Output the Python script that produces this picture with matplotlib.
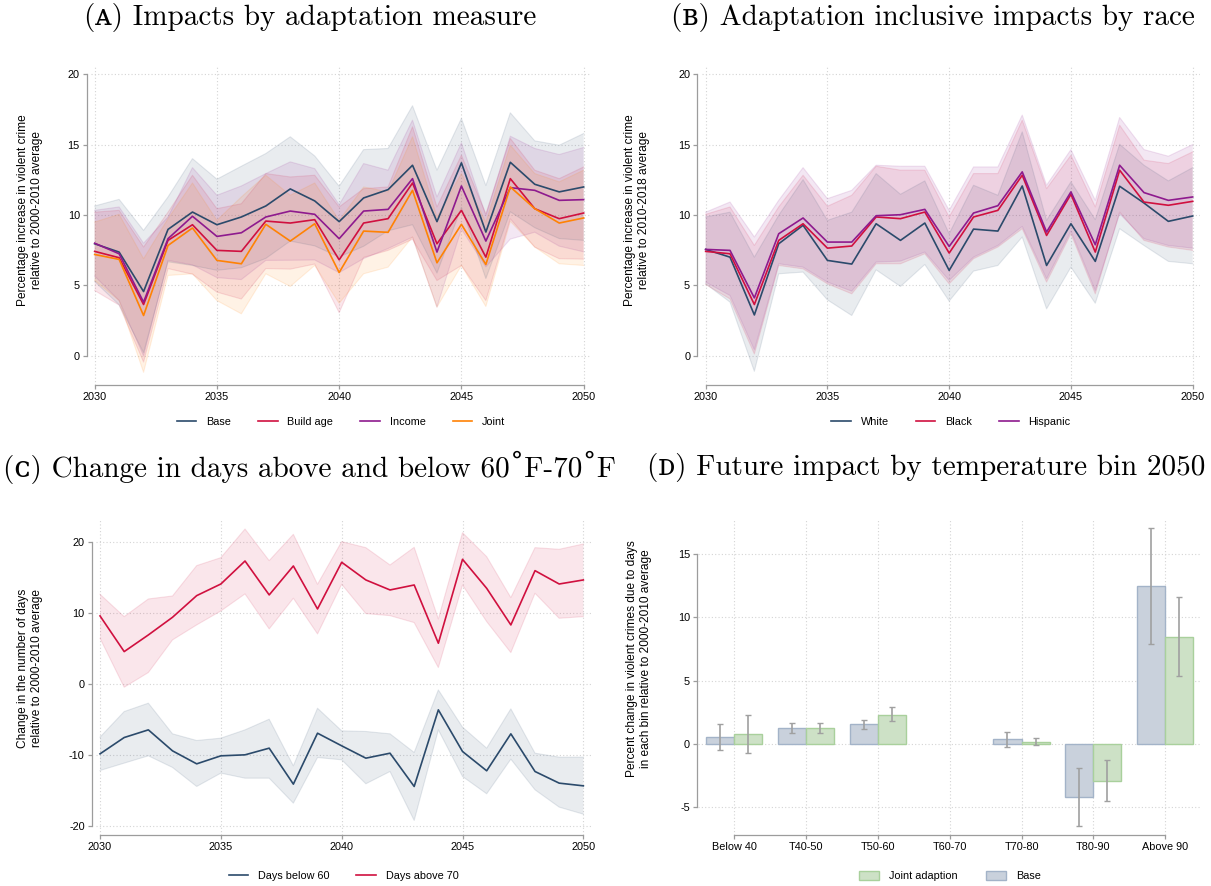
import numpy as np
import matplotlib.pyplot as plt
from matplotlib.patches import Patch
from matplotlib.lines import Line2D

plt.rcParams['font.family'] = ['Liberation Sans', 'DejaVu Sans']

years = list(range(2030, 2051))

# (A) impacts by adaptation measure: point estimates and 95% bands
base = [7.96, 7.37, 4.57, 8.98, 10.21, 9.31, 9.86, 10.64, 11.85, 11.0, 9.53,
        11.21, 11.8, 13.53, 9.53, 13.7, 8.79, 13.74, 12.18, 11.64, 11.99]
base_hi = [10.64, 11.11, 8.91, 11.28, 14.0, 12.54, 13.46, 14.36, 15.55, 14.19, 12.04,
           14.64, 14.72, 17.75, 13.18, 16.85, 12.09, 17.25, 15.26, 14.95, 15.78]
base_lo = [5.28, 3.63, 0.23, 6.68, 6.42, 6.08, 6.26, 6.92, 8.15, 7.81, 7.02,
           7.78, 8.88, 9.31, 5.88, 10.55, 5.49, 10.23, 9.1, 8.33, 8.2]
build = [7.42, 6.97, 3.65, 8.2, 9.31, 7.49, 7.42, 9.57, 9.43, 9.67, 6.82,
         9.43, 9.74, 12.27, 7.96, 10.33, 7.01, 12.58, 10.45, 9.74, 10.14]
build_hi = [10.2, 10.33, 7.73, 10.2, 12.82, 10.45, 10.8, 12.94, 12.7, 12.82, 10.57,
            11.87, 11.99, 16.26, 10.57, 14.24, 10.09, 15.43, 13.18, 12.58, 13.41]
build_lo = [4.64, 3.61, -0.43, 6.2, 5.8, 4.53, 4.04, 6.2, 6.16, 6.52, 3.07,
            6.99, 7.49, 8.28, 5.35, 6.42, 3.93, 9.73, 7.72, 6.9, 6.87]
income = [8.0, 7.25, 3.82, 8.32, 9.91, 8.48, 8.74, 9.86, 10.28, 10.05, 8.32,
          10.28, 10.4, 12.58, 7.37, 12.06, 8.15, 11.94, 11.75, 11.04, 11.09]
income_hi = [10.33, 10.57, 8.0, 9.86, 13.36, 11.4, 12.06, 12.94, 13.77, 13.29, 10.73,
             13.65, 13.18, 16.73, 11.28, 15.12, 9.98, 15.59, 14.72, 14.29, 14.79]
income_lo = [5.67, 3.93, 0.0, 6.78, 6.46, 5.56, 5.42, 6.78, 6.79, 6.81, 5.91,
             6.91, 7.62, 8.43, 3.46, 9.0, 6.32, 8.29, 8.78, 7.79, 7.39]
joint = [7.2, 6.85, 2.87, 7.84, 9.08, 6.78, 6.54, 9.34, 8.15, 9.38, 5.92,
         8.86, 8.77, 11.75, 6.61, 9.34, 6.49, 11.99, 10.45, 9.43, 9.79]
joint_hi = [9.5, 10.05, 6.9, 9.74, 12.27, 9.62, 11.28, 12.82, 11.4, 12.27, 9.62,
            11.99, 11.64, 15.55, 9.86, 12.94, 9.5, 14.95, 12.94, 12.35, 13.18]
joint_lo = [5.36, 3.93, -1.16, 5.71, 5.83, 3.93, 2.99, 5.83, 4.93, 6.42, 3.74,
            5.83, 6.3, 8.44, 3.46, 6.42, 3.51, 9.55, 7.73, 6.54, 6.42]

# (B) adaptation inclusive impacts by race
white = [7.56, 7.01, 2.91, 7.96, 9.27, 6.78, 6.52, 9.38, 8.2, 9.43, 6.07,
         9.0, 8.86, 12.06, 6.42, 9.38, 6.71, 12.04, 10.85, 9.55, 9.93]
white_hi = [9.86, 10.2, 7.01, 9.98, 12.51, 9.62, 10.2, 12.94, 11.47, 12.42, 8.67,
            12.11, 11.4, 15.9, 9.62, 12.35, 9.67, 15.02, 13.53, 12.42, 13.36]
white_lo = [5.12, 3.82, -1.09, 5.83, 5.95, 3.98, 2.87, 6.11, 4.93, 6.49, 3.89,
            6.02, 6.42, 8.44, 3.34, 6.3, 3.74, 9.03, 7.84, 6.71, 6.54]
black = [7.42, 7.25, 3.65, 8.2, 9.38, 7.65, 7.8, 9.86, 9.74, 10.21, 7.3,
         9.86, 10.33, 12.82, 8.55, 11.47, 7.37, 13.18, 10.92, 10.69, 10.97]
black_hi = [10.05, 10.57, 7.84, 10.57, 12.82, 10.62, 11.4, 13.46, 13.18, 13.18, 9.86,
            12.94, 12.94, 16.73, 11.87, 14.24, 10.57, 16.37, 13.89, 13.65, 14.48]
black_lo = [5.07, 4.05, 0.14, 6.42, 6.18, 5.12, 4.41, 6.54, 6.54, 7.25, 5.12,
            6.9, 7.73, 9.03, 5.24, 8.67, 4.41, 10.21, 8.2, 7.73, 7.49]
hisp = [7.56, 7.49, 4.12, 8.67, 9.79, 8.08, 8.08, 9.95, 10.02, 10.4, 7.77,
        10.14, 10.66, 13.06, 8.79, 11.64, 7.89, 13.53, 11.59, 11.04, 11.28]
hisp_hi = [10.2, 10.92, 8.44, 11.04, 13.36, 11.16, 11.75, 13.53, 13.46, 13.46, 10.33,
           13.41, 13.41, 17.09, 12.11, 14.64, 11.04, 16.92, 14.64, 14.17, 15.0]
hisp_lo = [5.24, 4.29, 0.43, 6.54, 6.3, 5.24, 4.6, 6.66, 6.73, 7.37, 5.36,
           7.01, 7.84, 9.19, 5.47, 8.86, 4.64, 10.09, 8.32, 7.84, 7.65]

# (C) change in days above 70F / below 60F
above = [9.58, 4.55, 6.9, 9.39, 12.44, 14.08, 17.32, 12.54, 16.62, 10.56, 17.14,
         14.65, 13.24, 13.94, 5.73, 17.56, 13.47, 8.31, 15.96, 14.08, 14.65]
above_hi = [12.63, 9.48, 11.97, 12.39, 16.67, 17.79, 21.83, 17.37, 21.08, 14.04, 20.05,
            19.2, 16.76, 19.25, 9.15, 21.31, 17.93, 12.16, 19.2, 18.97, 19.72]
above_lo = [6.43, -0.47, 1.6, 6.2, 8.31, 10.28, 12.68, 7.75, 12.07, 7.04, 14.04,
            9.91, 9.62, 8.64, 2.3, 13.94, 8.78, 4.41, 12.77, 9.25, 9.48]
below = [-9.86, -7.56, -6.48, -9.44, -11.27, -10.14, -10.0, -9.06, -14.13, -6.95, -8.73,
         -10.47, -9.77, -14.46, -3.66, -9.53, -12.25, -7.04, -12.35, -13.99, -14.37]
below_hi = [-7.51, -3.9, -2.72, -7.04, -7.98, -7.65, -6.48, -4.98, -11.55, -3.43, -6.62,
            -6.71, -7.04, -9.67, -0.85, -6.1, -9.06, -3.52, -9.77, -10.33, -10.33]
below_lo = [-12.21, -11.17, -10.14, -11.78, -14.46, -12.58, -13.29, -13.29, -16.81, -10.38, -10.7,
            -14.08, -12.35, -19.25, -6.48, -13.05, -15.49, -10.61, -14.93, -17.37, -18.36]

# (D) impact by temperature bin in 2050 (T60-70 is the omitted reference bin)
bins = ['Below 40', 'T40-50', 'T50-60', 'T60-70', 'T70-80', 'T80-90', 'Above 90']
bin_base = [0.53, 1.24, 1.56, np.nan, 0.37, -4.17, 12.48]
bin_base_hi = [1.56, 1.64, 1.93, np.nan, 0.98, -1.87, 17.1]
bin_base_lo = [-0.47, 0.9, 1.21, np.nan, -0.21, -6.49, 7.92]
bin_joint = [0.77, 1.24, 2.3, np.nan, 0.13, -2.9, 8.47]
bin_joint_hi = [2.27, 1.64, 2.88, np.nan, 0.5, -1.27, 11.61]
bin_joint_lo = [-0.69, 0.9, 1.82, np.nan, -0.11, -4.51, 5.38]

NAVY = '#2b4a6b'
CRIMSON = '#d0103f'
PURPLE = '#8e1a8e'
ORANGE = '#ff8204'
SPINE = '#9c9c9c'
W, H = 1211, 886

fig = plt.figure(figsize=(W / 100, H / 100), dpi=100)


def px_axes(left, right, top, bottom):
    return fig.add_axes([left / W, (H - bottom) / H, (right - left) / W, (bottom - top) / H])


def style(ax, yticks, xbounds, ybounds, offset):
    for s in ['top', 'right']:
        ax.spines[s].set_visible(False)
    ax.spines['left'].set_position(('outward', offset))
    ax.spines['left'].set_bounds(*ybounds)
    ax.spines['bottom'].set_bounds(*xbounds)
    for s in ['left', 'bottom']:
        ax.spines[s].set_color(SPINE)
        ax.spines[s].set_linewidth(0.9)
    ax.set_yticks(yticks)
    ax.tick_params(axis='both', length=3, width=0.9, color=SPINE, labelsize=7.8,
                   labelcolor='black', pad=2)
    ax.grid(True, linestyle=(0, (1, 2)), color='#d4d4d4', linewidth=0.8)
    ax.set_axisbelow(True)


def band(ax, lo, hi, color, alpha):
    ax.fill_between(years, lo, hi, facecolor=color, alpha=alpha, linewidth=0)
    ax.plot(years, lo, color=color, alpha=alpha * 1.2, linewidth=0.8)
    ax.plot(years, hi, color=color, alpha=alpha * 1.2, linewidth=0.8)


def line_legend(ax, names, colors, y):
    handles = [Line2D([0], [0], color=c, linewidth=1.2) for c in colors]
    ax.legend(handles, names, loc='center', bbox_to_anchor=(0.5, y), ncol=len(names),
              frameon=False, fontsize=7.8, handlelength=1.8, columnspacing=2.5,
              handletextpad=0.9)


# panel A
axA = px_axes(91, 591, 67, 385)
for lo, hi, c in [(base_lo, base_hi, NAVY), (build_lo, build_hi, CRIMSON),
                  (income_lo, income_hi, PURPLE), (joint_lo, joint_hi, ORANGE)]:
    band(axA, lo, hi, c, 0.1)
for s, c in [(base, NAVY), (build, CRIMSON), (income, PURPLE), (joint, ORANGE)]:
    axA.plot(years, s, color=c, linewidth=1.2)
axA.set_xlim(2029.85, 2050.3)
axA.set_ylim(-2.06, 20.5)
axA.set_xticks([2030, 2035, 2040, 2045, 2050])
style(axA, [0, 5, 10, 15, 20], (2030, 2050), (0, 20), 3)
axA.set_ylabel('Percentage increase in violent crime\nrelative to 2000-2010 average', fontsize=8.6)
axA.yaxis.set_label_coords(-0.096, 0.55)
line_legend(axA, ['Base', 'Build age', 'Income', 'Joint'], [NAVY, CRIMSON, PURPLE, ORANGE], -0.116)

# panel B
axB = px_axes(702, 1200, 67, 385)
for lo, hi, c in [(white_lo, white_hi, NAVY), (black_lo, black_hi, CRIMSON),
                  (hisp_lo, hisp_hi, PURPLE)]:
    band(axB, lo, hi, c, 0.1)
for s, c in [(white, NAVY), (black, CRIMSON), (hisp, PURPLE)]:
    axB.plot(years, s, color=c, linewidth=1.2)
axB.set_xlim(2029.85, 2050.3)
axB.set_ylim(-2.06, 20.5)
axB.set_xticks([2030, 2035, 2040, 2045, 2050])
style(axB, [0, 5, 10, 15, 20], (2030, 2050), (0, 20), 3.5)
axB.set_ylabel('Percentage increase in violent crime\nrelative to 2010-2018 average', fontsize=8.6)
axB.yaxis.set_label_coords(-0.104, 0.55)
line_legend(axB, ['White', 'Black', 'Hispanic'], [NAVY, CRIMSON, PURPLE], -0.116)

# panel C
axC = px_axes(96.4, 590.6, 520, 835)
band(axC, below_lo, below_hi, NAVY, 0.1)
band(axC, above_lo, above_hi, CRIMSON, 0.1)
axC.plot(years, below, color=NAVY, linewidth=1.2)
axC.plot(years, above, color=CRIMSON, linewidth=1.2)
axC.set_xlim(2029.85, 2050.3)
axC.set_ylim(-21.3, 23.1)
axC.set_xticks([2030, 2035, 2040, 2045, 2050])
style(axC, [-20, -10, 0, 10, 20], (2030, 2050), (-20, 20), 3.4)
axC.set_yticklabels(['-20', '-10', '0', '10', '20'])
axC.set_ylabel('Change in the number of days\nrelative to 2000-2010 average', fontsize=8.6)
axC.yaxis.set_label_coords(-0.108, 0.53)
line_legend(axC, ['Days below 60', 'Days above 70'], [NAVY, CRIMSON], -0.13)

# panel D
axD = px_axes(698.4, 1201, 520, 835)
x = np.arange(len(bins))
bw = 0.39
base_err = [np.array(bin_base) - np.array(bin_base_lo), np.array(bin_base_hi) - np.array(bin_base)]
joint_err = [np.array(bin_joint) - np.array(bin_joint_lo), np.array(bin_joint_hi) - np.array(bin_joint)]
axD.bar(x - bw / 2, bin_base, width=bw, color='#c9d1dc', edgecolor='#a3b3c8', linewidth=1)
axD.bar(x + bw / 2, bin_joint, width=bw, color='#cde1c6', edgecolor='#a9d09c', linewidth=1)
axD.errorbar(x - bw / 2, bin_base, yerr=base_err, fmt='none', ecolor='#a0a0a0',
             elinewidth=1.2, capsize=2.5, capthick=1)
axD.errorbar(x + bw / 2, bin_joint, yerr=joint_err, fmt='none', ecolor='#a0a0a0',
             elinewidth=1.2, capsize=2.5, capthick=1)
axD.set_xlim(-0.5, 6.5)
axD.set_ylim(-7.2, 17.7)
axD.set_xticks(x)
axD.set_xticklabels(bins)
style(axD, [-5, 0, 5, 10, 15], (0, 6), (-5, 15), 1)
axD.set_yticklabels(['-5', '0', '5', '10', '15'])
axD.set_ylabel('Percent change in violent crimes due to days\nin each bin relative to 2000-2010 average',
               fontsize=8.6)
axD.yaxis.set_label_coords(-0.092, 0.56)
handles = [Patch(facecolor='#cde1c6', edgecolor='#a9d09c'), Patch(facecolor='#c9d1dc', edgecolor='#a3b3c8')]
axD.legend(handles, ['Joint adaption', 'Base'], loc='center', bbox_to_anchor=(0.5, -0.13), ncol=2,
           frameon=False, fontsize=7.8, handlelength=1.9, handleheight=0.9, columnspacing=2.6,
           handletextpad=0.9)

# panel captions (small capitals and the ring come from the DejaVu fallback)
tfont = dict(family=['cmr10', 'DejaVu Serif'], fontsize=21, ha='center', va='center')
fig.text(310 / W, 1 - 17 / H, '(ᴀ) Impacts by adaptation measure', **tfont)
fig.text(933 / W, 1 - 17 / H, '(ʙ) Adaptation inclusive impacts by race', **tfont)
fig.text(310 / W, 1 - 467 / H, '(ᴄ) Change in days above and below 60˚F-70˚F', **tfont)
fig.text(926 / W, 1 - 467 / H, '(ᴅ) Future impact by temperature bin 2050', **tfont)

fig.savefig('out.png', dpi=100)
